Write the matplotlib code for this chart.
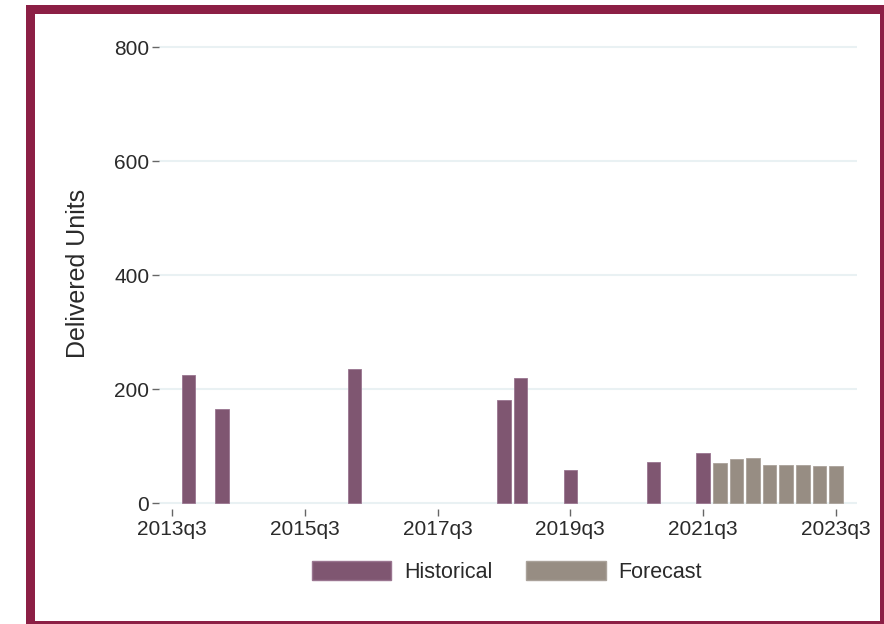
import matplotlib
matplotlib.use("Agg")
import matplotlib.pyplot as plt
from matplotlib.patches import Rectangle, Patch

plt.rcParams['font.family'] = ['Liberation Sans', 'DejaVu Sans']

# Quarterly deliveries
hist_quarters = ["2013q4", "2014q2", "2016q2", "2018q3", "2018q4", "2019q3", "2020q4", "2021q3"]
hist_values = [225, 165, 235, 182, 219, 58, 72, 89]
fc_quarters = ["2021q4", "2022q1", "2022q2", "2022q3", "2022q4", "2023q1", "2023q2", "2023q3"]
fc_values = [70, 77, 79, 67, 68, 68, 65, 65]
tick_labels = ["2013q3", "2015q3", "2017q3", "2019q3", "2021q3", "2023q3"]
y_ticks = [0, 200, 400, 600, 800]

BASE = "2013q3"


def qindex(s):
    y, q = s.split("q")
    by, bq = BASE.split("q")
    return (int(y) - int(by)) * 4 + (int(q) - int(bq))


hist_color = "#7f5671"
fc_color = "#978d83"
frame_color = "#8c1f45"
grid_color = "#e9f1f3"
text_color = "#2a2a2a"

W, H = 884, 624
fig = plt.figure(figsize=(W / 100, H / 100), dpi=100)
ax = fig.add_axes([159 / W, 1 - 509 / H, (857 - 159) / W, (509 - 38.5) / H])

hx = [qindex(q) for q in hist_quarters]
fx = [qindex(q) for q in fc_quarters]
ax.bar(hx, hist_values, width=0.82, color=hist_color, edgecolor="#9a7590", linewidth=0.6, zorder=3)
ax.bar(fx, fc_values, width=0.82, color=fc_color, edgecolor="#aaa29a", linewidth=0.6, zorder=3)

ax.set_xlim(-0.78, 41.27)
ax.set_ylim(-10, 815)
ax.set_xticks([qindex(t) for t in tick_labels])
ax.set_xticklabels(tick_labels)
ax.set_yticks(y_ticks)
ax.set_yticklabels([str(v) for v in y_ticks])
for v in y_ticks:
    ax.axhline(v, color=grid_color, linewidth=1.5, zorder=1)

for s in ax.spines.values():
    s.set_visible(False)
ax.tick_params(axis="both", direction="out", length=5, width=1, color="#666666",
               labelsize=15, labelcolor=text_color)
ax.tick_params(axis="y", pad=2)
ax.tick_params(axis="x", pad=3)
ax.set_ylabel("Delivered Units", fontsize=18, color=text_color)
ax.yaxis.set_label_coords((90 - 159) / (857 - 159), 0.5)

handles = [Patch(facecolor=hist_color, edgecolor="#9a7590", label="Historical"),
           Patch(facecolor=fc_color, edgecolor="#aaa29a", label="Forecast")]
fig.legend(handles=handles, loc="center", bbox_to_anchor=(507 / W, 1 - 572 / H),
           ncol=2, frameon=False, fontsize=15.5, handlelength=3.7, handleheight=0.95,
           handletextpad=0.6, columnspacing=1.55, labelcolor=text_color)

# Outer frame, about 9 px wide
lw_px = 9
fig.patches.append(Rectangle((29.5 / W, (H - 624.5) / H), (883.5 - 29.5) / W, (624.5 - 9) / H,
                             transform=fig.transFigure, fill=False, edgecolor=frame_color,
                             linewidth=lw_px * 72 / 100, zorder=10, clip_on=False))

fig.savefig("out.png", dpi=100, facecolor="white")
